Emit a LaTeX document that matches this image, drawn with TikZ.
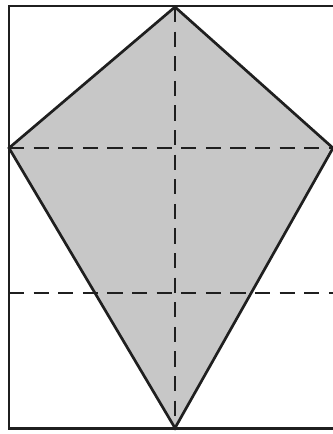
\documentclass[tikz,border=0pt]{standalone}
\usepackage{tikz}
\usetikzlibrary{positioning}

\tikzset{
  edge/.style={line width=2.3pt, draw=black!88},
  guide/.style={line width=2.3pt, draw=black!88, dash pattern=on 13pt off 8pt},
}

\begin{document}
\begin{tikzpicture}[x=0.03cm,y=-0.03cm]
\useasboundingbox (0,0) rectangle (333,434);

\coordinate (top) at (175,7);
\coordinate (left) at (9,148);
\coordinate (right) at (333,148);
\coordinate (bottom) at (175,428);
\coordinate (low-l) at (9,293);
\coordinate (low-r) at (340,293);

\fill[black!22] (top) -- (right) -- (bottom) -- (left) -- cycle;

\draw[guide] (top) -- (bottom);
\draw[guide] (left) -- (right);
\draw[guide] (low-l) -- (low-r);

\draw[edge] (top) -- (right) -- (bottom) -- (left) -- cycle;
\draw[edge] (9,6) rectangle (345,428.5);
\end{tikzpicture}
\end{document}
